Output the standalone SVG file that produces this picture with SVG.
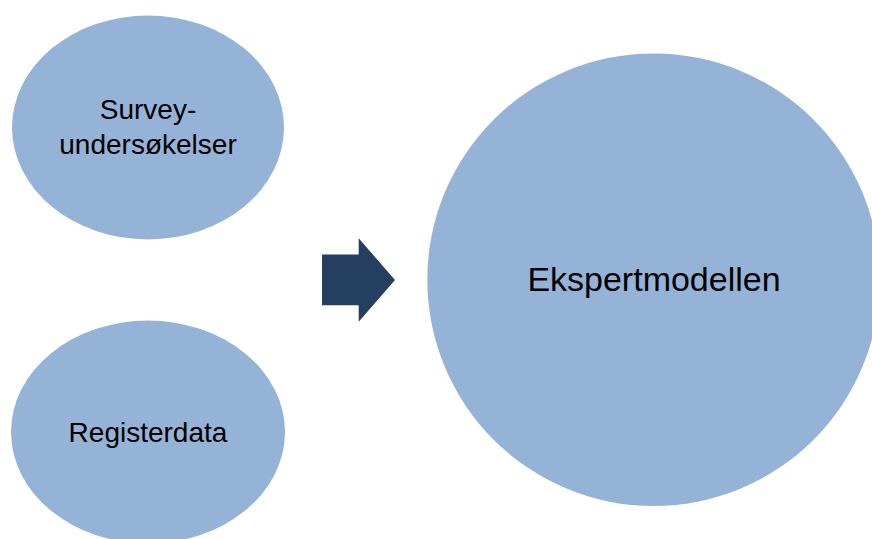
<svg xmlns="http://www.w3.org/2000/svg" width="872" height="539" viewBox="0 0 872 539">
  <style>
    .node { fill: #95B3D7; }
    .label { font-family: "Liberation Sans", Arial, sans-serif; fill: #000; text-anchor: middle; }
    .arrow { fill: #243F60; }
  </style>
  <rect width="872" height="539" fill="#ffffff"/>
  <g id="survey">
    <ellipse class="node" cx="148" cy="127.5" rx="136" ry="112"/>
    <text class="label" x="148" y="119" font-size="28">Survey-</text>
    <text class="label" x="148" y="154" font-size="28">undersøkelser</text>
  </g>
  <g id="registerdata">
    <ellipse class="node" cx="148" cy="432" rx="137" ry="111.5"/>
    <text class="label" x="148" y="442" font-size="28">Registerdata</text>
  </g>
  <g id="ekspertmodellen">
    <circle class="node" cx="653.6" cy="279.7" r="226.3"/>
    <text class="label" x="654" y="291" font-size="34">Ekspertmodellen</text>
  </g>
  <g id="connectors">
    <polygon class="arrow" points="322,254.5 358.7,254.5 358.7,238.3 395,280 358.7,321.7 358.7,305.3 322,305.3"/>
  </g>
</svg>
